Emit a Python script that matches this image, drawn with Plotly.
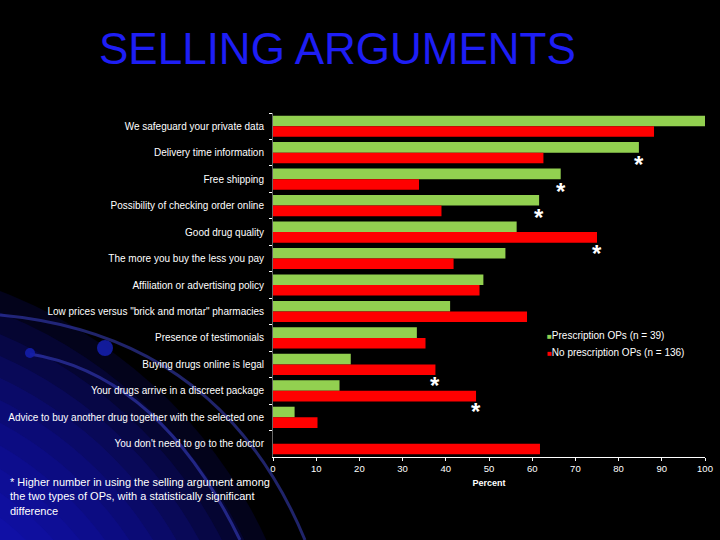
import plotly.graph_objects as go

categories = [
    "We safeguard your private data",
    "Delivery time information",
    "Free shipping",
    "Possibility of checking order online",
    "Good drug quality",
    "The more you buy the less you pay",
    "Affiliation or advertising policy",
    'Low prices versus "brick and mortar" pharmacies',
    "Presence of testimonials",
    "Buying drugs online is legal",
    "Your drugs arrive in a discreet package",
    "Advice to buy another drug together with the selected one",
    "You don't need to go to the doctor",
]
prescription = [100, 84.7, 66.6, 61.6, 56.4, 53.8, 48.7, 41.0, 33.3, 18.0, 15.4, 5.0, 0]
no_prescription = [88.2, 62.6, 33.8, 39.0, 75.0, 41.8, 47.8, 58.8, 35.3, 37.6, 47.0, 10.3, 61.8]
series_names = ["Prescription OPs (n = 39)", "No prescription OPs (n = 136)"]
series_colors = ["#92d050", "#ff0000"]
significant = [
    "Delivery time information",
    "Free shipping",
    "Possibility of checking order online",
    "Good drug quality",
    "Buying drugs online is legal",
    "Your drugs arrive in a discreet package",
]
x_ticks = [0, 10, 20, 30, 40, 50, 60, 70, 80, 90, 100]

# plot-area pixel geometry
PL, PR, PT, PB = 273, 705, 113, 457
W, H = 720, 540


def px(x):
    return (x - PL) / (PR - PL)


def py(y):
    return (PB - y) / (PB - PT)


fig = go.Figure()
for vals, name, col in zip([prescription, no_prescription], series_names, series_colors):
    fig.add_trace(go.Bar(
        y=categories, x=vals, orientation="h", name=name,
        marker=dict(color=col, line=dict(width=0)), showlegend=False,
    ))

shapes = []
# blue glow in the bottom-left corner (stacked translucent discs)
cx0, cy0 = -170, 740
for k in range(18):
    r = 480 - k * 20
    shapes.append(dict(
        type="circle", xref="paper", yref="paper", layer="below",
        x0=px(cx0 - r), x1=px(cx0 + r), y0=py(cy0 + r), y1=py(cy0 - r),
        fillcolor="rgba(22,22,225,0.12)", line=dict(width=0),
    ))
# decorative arcs
for (x0, y0, cx, cy, x1, y1) in [(0, 315, 220, 335, 305, 540),
                                  (30, 354, 160, 375, 240, 540)]:
    shapes.append(dict(
        type="path", xref="paper", yref="paper", layer="below",
        path=f"M {px(x0)},{py(y0)} Q {px(cx)},{py(cy)} {px(x1)},{py(y1)}",
        line=dict(color="rgba(70,80,235,0.45)", width=3),
    ))
for (cx, cy, r) in [(30, 353, 5), (105, 348, 8)]:
    shapes.append(dict(
        type="circle", xref="paper", yref="paper", layer="below",
        x0=px(cx - r), x1=px(cx + r), y0=py(cy + r), y1=py(cy - r),
        fillcolor="rgba(20,30,170,0.9)", line=dict(width=0),
    ))

annotations = []
for cat in significant:
    i = categories.index(cat)
    g, rd = prescription[i], no_prescription[i]
    annotations.append(dict(
        x=max(g, rd), y=cat, xref="x", yref="y", text="<b>*</b>", showarrow=False,
        font=dict(color="white", size=24, family="Liberation Sans"),
        yshift=-21 if rd > g else -12, xanchor="center", yanchor="middle",
    ))

# legend drawn as text with small coloured squares
for k, (name, col) in enumerate(zip(series_names, series_colors)):
    annotations.append(dict(
        x=px(545), y=py(335 + 17 * k), xref="paper", yref="paper",
        xanchor="left", yanchor="middle", showarrow=False,
        text=f'<span style="color:{col};font-size:8px">■</span>{name}',
        font=dict(color="white", size=10, family="Liberation Sans"),
    ))

annotations.append(dict(
    x=px(97), y=py(49), xref="paper", yref="paper", xanchor="left", yanchor="middle",
    text="SELLING ARGUMENTS", showarrow=False,
    font=dict(color="#1e1ef5", size=44, family="Liberation Sans"),
))
annotations.append(dict(
    x=px(8), y=py(474), xref="paper", yref="paper", xanchor="left", yanchor="top",
    align="left", showarrow=False,
    text="* Higher number in using the selling argument among<br>"
         "the two types of OPs, with a statistically significant<br>difference",
    font=dict(color="white", size=11, family="Liberation Sans"),
))

fig.update_layout(
    width=W, height=H,
    margin=dict(l=PL, r=W - PR, t=PT, b=H - PB),
    paper_bgcolor="black", plot_bgcolor="rgba(0,0,0,0)",
    barmode="group", bargap=0.2, bargroupgap=0,
    font=dict(family="Liberation Sans", color="white", size=9),
    shapes=shapes, annotations=annotations,
    showlegend=False,
    xaxis=dict(
        range=[0, 100], tickvals=x_ticks, showgrid=False, zeroline=False,
        showline=True, linecolor="white", linewidth=1, automargin=False,
        ticks="outside", ticklen=3, tickcolor="white", tickfont=dict(size=9.5),
        title=dict(text="<b>Percent</b>", font=dict(size=9), standoff=6),
    ),
    yaxis=dict(
        autorange="reversed", showgrid=False, showline=True, automargin=False,
        linecolor="rgba(255,255,255,0.4)", ticks="outside", tickson="boundaries",
        ticklen=3, tickcolor="white", ticklabelstandoff=6,
        tickfont=dict(size=10),
    ),
)

fig.write_html(
    "out.html",
    config={"displayModeBar": False},
    post_script="document.body.style.margin='0';document.body.style.background='black';",
)
